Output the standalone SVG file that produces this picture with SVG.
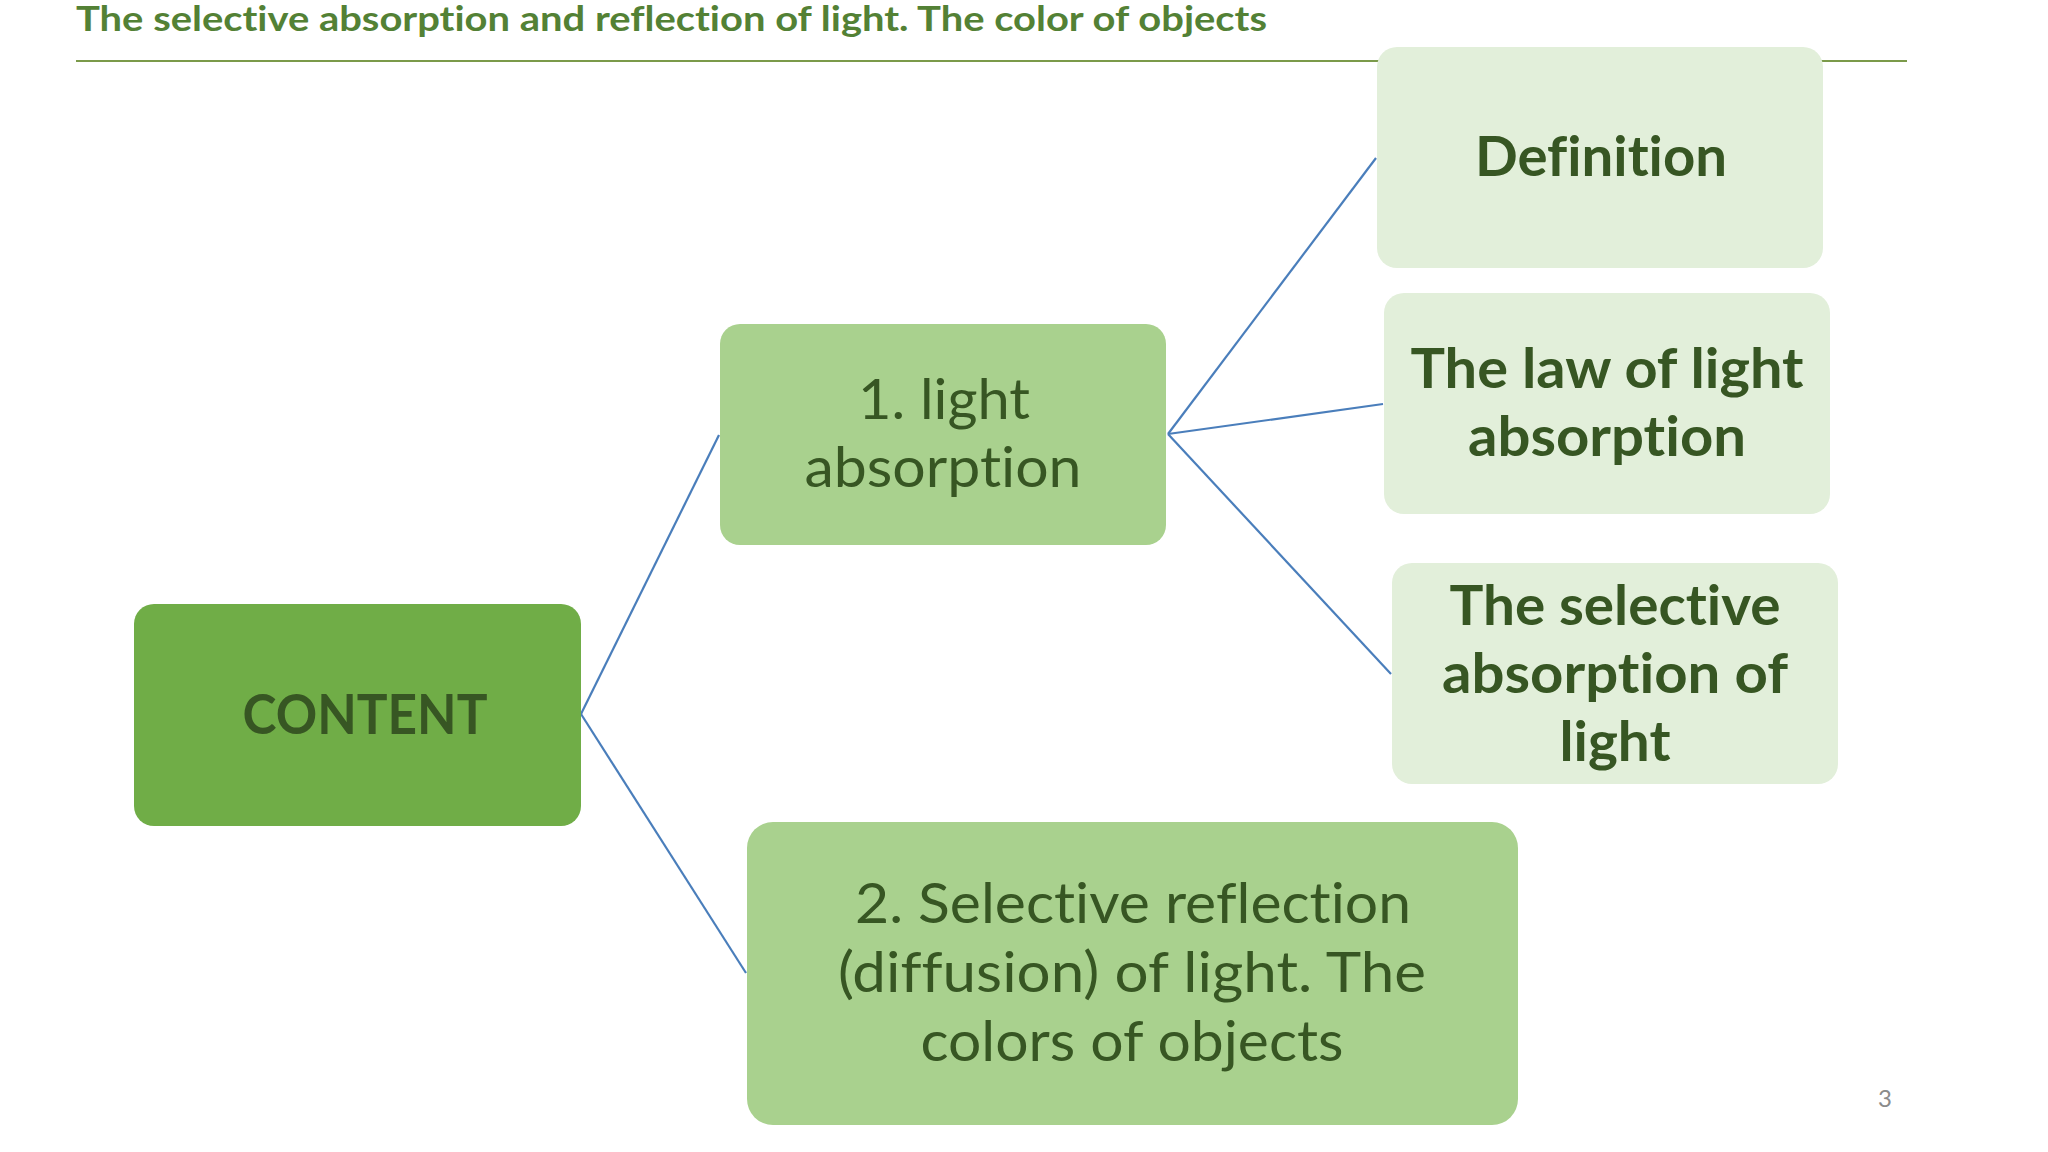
<svg xmlns="http://www.w3.org/2000/svg" width="2048" height="1152" viewBox="0 0 2048 1152">
<style>
  text { font-variant-ligatures: none; font-feature-settings: "liga" 0, "clig" 0; }
  .t { font-family: Lato, "Open Sans", "Liberation Sans", sans-serif; text-anchor: middle; fill: #375623; }
  .b { font-weight: bold; }
  .big { font-size: 56px; }
  .n0 { fill: #70ad47; }
  .n1 { fill: #a9d18e; }
  .n2 { fill: #e2efda; }
  .conn line { stroke: #4a7ebb; stroke-width: 2.2; fill: none; }
</style>
<rect width="2048" height="1152" fill="#ffffff"/>
<g id="title">
  <text x="76" y="31" font-family="Lato, 'Open Sans', 'Liberation Sans', sans-serif" font-weight="bold" font-size="35" fill="#538135" textLength="1191" lengthAdjust="spacingAndGlyphs">The selective absorption and reflection of light. The color of objects</text>
  <line x1="76" y1="61" x2="1907" y2="61" stroke="#7b9a4a" stroke-width="2"/>
</g>
<g id="connectors" class="conn">
  <line x1="581" y1="714" x2="719" y2="435"/>
  <line x1="581" y1="714" x2="746" y2="973"/>
  <line x1="1168" y1="434" x2="1376" y2="158"/>
  <line x1="1168" y1="434" x2="1383" y2="404"/>
  <line x1="1168" y1="434" x2="1391" y2="674"/>
</g>
<g id="node-content">
  <rect class="n0" x="134" y="604" width="447" height="222" rx="20"/>
  <text class="t b big" x="365" y="734" textLength="245" lengthAdjust="spacingAndGlyphs">CONTENT</text>
</g>
<g id="node-light-absorption">
  <rect class="n1" x="720" y="324" width="446" height="221" rx="20"/>
  <text class="t big" x="944" y="419" textLength="172" lengthAdjust="spacingAndGlyphs">1. light</text>
  <text class="t big" x="943" y="487" textLength="277" lengthAdjust="spacingAndGlyphs">absorption</text>
</g>
<g id="node-selective-reflection">
  <rect class="n1" x="747" y="822" width="771" height="303" rx="26"/>
  <text class="t big" x="1133" y="923" textLength="556" lengthAdjust="spacingAndGlyphs">2. Selective reflection</text>
  <text class="t big" x="1132" y="992" textLength="588" lengthAdjust="spacingAndGlyphs">(diffusion) of light. The</text>
  <text class="t big" x="1132" y="1061" textLength="423" lengthAdjust="spacingAndGlyphs">colors of objects</text>
</g>
<g id="node-definition">
  <rect class="n2" x="1377" y="47" width="446" height="221" rx="20"/>
  <text class="t b big" x="1601" y="176" textLength="252" lengthAdjust="spacingAndGlyphs">Definition</text>
</g>
<g id="node-law">
  <rect class="n2" x="1384" y="293" width="446" height="221" rx="20"/>
  <text class="t b big" x="1607" y="388" textLength="393" lengthAdjust="spacingAndGlyphs">The law of light</text>
  <text class="t b big" x="1607" y="456" textLength="278" lengthAdjust="spacingAndGlyphs">absorption</text>
</g>
<g id="node-selective-absorption">
  <rect class="n2" x="1392" y="563" width="446" height="221" rx="20"/>
  <text class="t b big" x="1615" y="625" textLength="331" lengthAdjust="spacingAndGlyphs">The selective</text>
  <text class="t b big" x="1615" y="693" textLength="346" lengthAdjust="spacingAndGlyphs">absorption of</text>
  <text class="t b big" x="1615" y="761" textLength="111" lengthAdjust="spacingAndGlyphs">light</text>
</g>
<text x="1885" y="1107" font-family="Lato, 'Liberation Sans', sans-serif" font-size="24" fill="#8b8b8b" text-anchor="middle">3</text>
</svg>
